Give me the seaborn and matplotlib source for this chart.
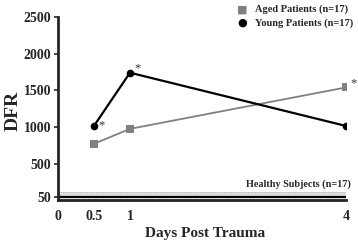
#!/usr/bin/env python3
#
# DFR over days post trauma, aged vs young patients
#
import numpy as np
import matplotlib
matplotlib.use('Agg')
import matplotlib.pyplot as plt
import seaborn as sns
import pandas as pd

# Data
days = [0.5, 1, 4]
aged_dfr = [772, 976, 1540]
young_dfr = [1016, 1741, 1016]
aged_label = 'Aged Patients (n=17)'
young_label = 'Young Patients (n=17)'
healthy_label = 'Healthy Subjects (n=17)'
healthy_mean = 45
healthy_band = [65, 110]
healthy_low = 25
x_ticks = [0, 0.5, 1, 4]
x_tick_labels = ['0', '0.5', '1', '4']
y_ticks = [50, 500, 1000, 1500, 2000, 2500]
# points marked with an asterisk
stars_x = [0.5, 1, 4]
stars_y = [1016, 1741, 1540]

sns.set_style('ticks')
plt.rcParams['font.family'] = ['Liberation Serif', 'DejaVu Serif']
plt.rcParams['font.weight'] = 'bold'

df = pd.DataFrame({
    'day': days * 2,
    'dfr': aged_dfr + young_dfr,
    'group': [aged_label] * 3 + [young_label] * 3,
})

fig = plt.figure(figsize=(3.58, 2.43), dpi=100)
ax = fig.add_axes([0.162, 0.175, 0.804, 0.755])

# Healthy reference band
ax.fill_between([0, 4], healthy_band[0], healthy_band[1], color='#dcdcdc', lw=0)
ax.plot([0, 4], [healthy_band[1]] * 2, color='#aaaaaa', lw=0.6, ls=':')
ax.plot([0, 4], [healthy_mean] * 2, color='black', lw=1.6)
ax.plot([0, 4], [healthy_low] * 2, color='#555555', lw=0.8, ls=':')

sns.lineplot(data=df, x='day', y='dfr', hue='group', style='group',
             palette={aged_label: '#808080', young_label: 'black'},
             markers={aged_label: 's', young_label: 'o'},
             dashes=False, markersize=5.5, markeredgewidth=0,
             ax=ax, legend=False)
for line, lw in zip(ax.lines[-2:], [1.3, 1.6]):
    line.set_linewidth(lw)

# Asterisks
offsets = [(0.1, 10), (0.1, 60), (0.1, 60)]
for x, y, (dx, dy) in zip(stars_x, stars_y, offsets):
    ax.text(x + dx, y + dy, '*', fontsize=9, color='#333333',
            ha='center', va='center', fontweight='normal')

ax.text(4.07, healthy_band[1] + 40, healthy_label, fontsize=7.3,
        ha='right', va='bottom')

ax.set_xlim(0, 4)
ax.set_ylim(0, 2500)
ax.set_xticks(x_ticks)
ax.set_xticklabels(x_tick_labels)
ax.set_yticks(y_ticks)
ax.tick_params(labelsize=10, length=3, width=1.2, pad=2)
ax.tick_params(axis='x', length=0, pad=7)
for s in ['top', 'right']:
    ax.spines[s].set_visible(False)
for s in ['left', 'bottom']:
    ax.spines[s].set_linewidth(2)

ax.set_xlabel('Days Post Trauma', fontsize=11, fontweight='bold')
ax.set_ylabel('DFR', fontsize=14, fontweight='bold')
ax.xaxis.set_label_coords(0.51, -0.145)
ax.yaxis.set_label_coords(-0.128, 0.49)

# Legend
fig.text(0.676, 0.962, '\u25a0', color='#808080', fontsize=8,
         ha='center', va='center', family='DejaVu Sans')
fig.text(0.676, 0.905, '\u25cf', color='black', fontsize=8,
         ha='center', va='center', family='DejaVu Sans')
fig.text(0.712, 0.962, aged_label, fontsize=7.5, va='center')
fig.text(0.712, 0.905, young_label, fontsize=7.5, va='center')

fig.savefig('out.png', dpi=100)
